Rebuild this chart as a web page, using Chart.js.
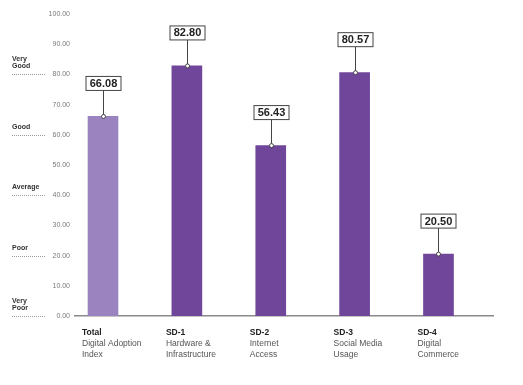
<!DOCTYPE html>
<html>
<head>
<meta charset="utf-8">
<script src="https://cdn.jsdelivr.net/npm/chart.js@4.4.1/dist/chart.umd.min.js"></script>
<style>
  html, body { margin: 0; padding: 0; background: #fff; }
  canvas { display: block; }
</style>
</head>
<body>
<canvas id="grafik" width="523" height="385"></canvas>
<script>
const codes = ["Total", "SD-1", "SD-2", "SD-3", "SD-4"];
const names = [
    ["Digital Adoption", "Index"],
    ["Hardware &", "Infrastructure"],
    ["Internet", "Access"],
    ["Social Media", "Usage"],
    ["Digital", "Commerce"]
];
const scores = [66.08, 82.80, 56.43, 80.57, 20.50];
const barColors = ["#9b83bf", "#6f4699", "#6f4699", "#6f4699", "#6f4699"];
const ratingLabels = [["Very", "Good"], ["Good"], ["Average"], ["Poor"], ["Very", "Poor"]];
const ratingValues = [80, 60, 40, 20, 0];

const FONT = "'Liberation Sans', Arial, Helvetica, sans-serif";

// kutucuklu değer etiketleri
const valueBoxes = {
    id: "valueBoxes",
    afterDatasetsDraw(chart) {
        const ctx = chart.ctx;
        const meta = chart.getDatasetMeta(0);
        ctx.save();
        meta.data.forEach((bar, i) => {
            const x = Math.round(bar.x) + 0.5;
            const top = bar.y;
            const boxW = 35, boxH = 14;
            const boxBottom = top - 26;
            ctx.strokeStyle = "#444";
            ctx.lineWidth = 1;
            ctx.beginPath();
            ctx.moveTo(x, boxBottom);
            ctx.lineTo(x, top);
            ctx.stroke();
            ctx.fillStyle = "#fff";
            ctx.fillRect(x - boxW / 2, boxBottom - boxH, boxW, boxH);
            ctx.strokeRect(x - boxW / 2, boxBottom - boxH, boxW, boxH);
            ctx.beginPath();
            ctx.arc(x, top, 2, 0, Math.PI * 2);
            ctx.fill();
            ctx.stroke();
            ctx.fillStyle = "#222";
            ctx.font = "bold 11px " + FONT;
            ctx.textAlign = "center";
            ctx.textBaseline = "middle";
            ctx.fillText(scores[i].toFixed(2), x, boxBottom - boxH / 2 + 0.5);
        });
        ctx.restore();
    }
};

// alt kategori etiketleri ve sol derece etiketleri
const sideLabels = {
    id: "sideLabels",
    afterDraw(chart) {
        const ctx = chart.ctx;
        const meta = chart.getDatasetMeta(0);
        const yScale = chart.scales.y;
        ctx.save();
        ctx.textAlign = "left";
        ctx.textBaseline = "middle";
        meta.data.forEach((bar, i) => {
            const left = bar.x - 21;
            ctx.fillStyle = "#222";
            ctx.font = "bold 8.5px " + FONT;
            ctx.fillText(codes[i], left, 333);
            ctx.fillStyle = "#555";
            ctx.font = "8.5px " + FONT;
            names[i].forEach((line, j) => ctx.fillText(line, left, 344 + j * 10.5));
        });

        ratingValues.forEach((v, i) => {
            const y = Math.round(yScale.getPixelForValue(v)) + 0.5;
            ctx.strokeStyle = "#999";
            ctx.lineWidth = 1;
            ctx.setLineDash([1, 1]);
            ctx.beginPath();
            ctx.moveTo(12, y);
            ctx.lineTo(45, y);
            ctx.stroke();
            ctx.setLineDash([]);
            ctx.fillStyle = "#333";
            ctx.font = "bold 7px " + FONT;
            const lines = ratingLabels[i];
            lines.forEach((line, j) => {
                ctx.fillText(line, 12, y - 8 - (lines.length - 1 - j) * 7.7);
            });
        });
        ctx.restore();
    }
};

new Chart(document.getElementById("grafik").getContext("2d"), {
    type: "bar",
    data: {
        datasets: [{
            data: scores.map((v, i) => ({ x: i, y: v })),
            backgroundColor: barColors,
            borderWidth: 0,
            barThickness: 30
        }]
    },
    options: {
        responsive: false,
        animation: false,
        layout: { padding: { top: 14, right: 30, bottom: 69, left: 0 } },
        plugins: {
            legend: { display: false },
            tooltip: { enabled: false }
        },
        scales: {
            x: {
                type: "linear",
                offset: false,
                min: -0.334,
                max: 4.65,
                grid: { display: false, offset: false },
                border: { display: true, color: "#8a8a8a", width: 1.5 },
                ticks: { display: false },
                afterFit(scale) { scale.height = 0; }
            },
            y: {
                min: 0,
                max: 100,
                grid: { display: false, drawTicks: false },
                border: { display: false },
                ticks: {
                    stepSize: 10,
                    padding: 5,
                    color: "#7a7a7a",
                    font: { family: FONT, size: 7 },
                    callback: value => value.toFixed(2)
                },
                afterFit(scale) { scale.width = 75; }
            }
        }
    },
    plugins: [valueBoxes, sideLabels]
});
</script>
</body>
</html>
